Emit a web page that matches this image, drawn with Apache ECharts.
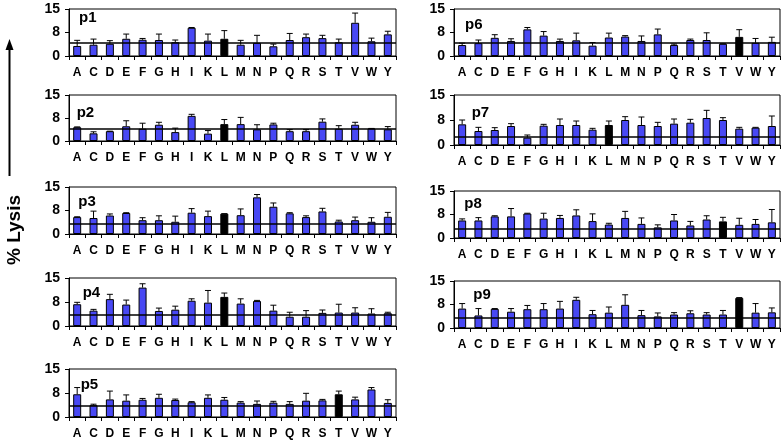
<!DOCTYPE html>
<html>
<head>
<meta charset="utf-8">
<script src="https://cdn.jsdelivr.net/npm/echarts@6.0.0/dist/echarts.min.js"></script>
<style>
html,body{margin:0;padding:0;background:#fff;}
#chart{width:782px;height:443px;}
</style>
</head>
<body>
<div id="chart"></div>
<script>
// ---- data ----
const categories = ['A','C','D','E','F','G','H','I','K','L','M','N','P','Q','R','S','T','V','W','Y'];
const yTickValues = [0, 7.5, 15]; // labelled 0, 8, 15

const p1Mean = [3.2,3.6,3.9,5.5,5.2,5.1,4.4,9.0,4.9,5.5,3.6,4.2,3.1,5.1,6.0,5.7,4.4,10.6,4.7,6.9];
const p1Sd   = [1.8,1.8,1.0,1.5,0.4,1.9,0.7,0.1,2.1,2.6,1.4,2.4,0.7,2.1,1.0,0.9,1.0,3.1,1.0,1.0];
const p2Mean = [4.5,2.5,3.2,4.8,4.0,5.3,2.9,8.2,2.4,5.5,5.5,3.8,5.4,3.2,3.2,6.3,4.0,5.3,4.1,3.8];
const p2Sd   = [0.1,0.5,0.0,1.8,1.8,0.8,1.3,0.5,1.0,1.5,2.2,1.5,0.4,0.5,0.5,0.9,1.0,0.8,0.0,0.9];
const p3Mean = [5.4,5.1,5.9,6.7,4.4,4.4,3.9,6.8,5.7,6.5,6.0,11.7,8.7,6.6,5.4,7.2,4.0,4.4,3.9,5.5];
const p3Sd   = [0.1,2.2,0.5,0.1,0.8,1.4,1.8,1.3,1.6,0.0,2.0,0.9,1.2,0.2,0.4,1.0,0.4,1.0,1.3,1.4];
const p4Mean = [6.8,4.8,8.4,6.7,12.0,4.7,5.1,7.9,7.3,9.1,7.0,7.8,4.8,2.9,2.9,4.1,4.2,4.2,3.9,4.0];
const p4Sd   = [0.6,0.4,1.5,1.4,1.2,0.9,1.1,0.6,3.8,1.2,1.5,0.2,1.7,1.4,1.9,0.9,2.6,1.5,1.5,0.3];
const p5Mean = [7.1,3.7,5.5,5.1,5.4,6.0,5.3,4.6,6.0,5.4,4.5,4.1,4.5,4.1,5.1,5.2,7.1,5.5,8.6,4.4];
const p5Sd   = [2.1,0.3,2.6,1.8,0.4,1.1,0.3,0.2,0.9,0.7,0.3,0.9,0.4,0.7,2.3,0.3,1.0,0.7,0.6,1.0];
const p6Mean = [3.5,4.1,5.8,4.8,8.5,6.5,4.8,5.0,3.3,5.9,6.2,4.8,6.9,3.5,5.1,5.1,3.9,6.1,4.2,4.5];
const p6Sd   = [0.6,1.0,1.0,0.7,0.6,1.3,0.6,2.3,1.0,1.4,0.3,1.6,1.7,0.3,0.3,2.3,0.0,2.3,1.4,1.5];
const p7Mean = [6.2,4.2,4.5,5.7,2.2,5.8,6.0,6.0,4.6,6.0,7.5,6.0,5.7,6.4,6.7,8.1,7.5,4.9,5.2,5.7];
const p7Sd   = [1.3,1.1,0.7,0.7,0.8,0.4,1.8,1.2,0.4,1.2,1.0,2.4,1.1,1.4,1.0,2.3,0.7,0.4,0.1,3.0];
const p8Mean = [5.6,5.6,6.9,6.9,7.8,6.2,6.4,7.2,5.4,4.3,6.4,4.5,3.4,5.6,4.0,5.9,5.3,4.2,4.5,5.0];
const p8Sd   = [0.5,0.9,0.2,2.5,0.1,1.7,0.8,1.8,2.3,0.4,2.1,1.9,0.8,1.9,1.3,1.2,1.3,2.1,1.4,4.1];
const p9Mean = [6.2,4.0,6.1,5.2,6.0,6.0,6.2,9.0,4.4,4.9,7.4,4.1,3.7,4.3,4.7,4.3,4.3,9.6,4.9,5.0];
const p9Sd   = [1.6,2.2,0.1,1.0,1.2,1.8,2.3,0.8,1.2,1.8,3.2,1.5,1.1,0.6,0.8,0.6,1.3,0.1,2.9,1.4];

const panelNames = ['p1','p2','p3','p4','p5','p6','p7','p8','p9'];
const refLevels  = [4.1,3.9,3.3,3.5,3.5,4.1,2.4,3.0,3.4];
const blackCats  = ['L','L','L','L','T','V','L','T','V'];

// ---- layout (positions only) ----
const FONT = 'Liberation Sans, Arial, Helvetica, sans-serif';
const layout = [
  {left:69,  width:327, top:9,   height:47, lx:79,    ly:18.3},
  {left:69,  width:327, top:95,  height:46, lx:76.7,  ly:113.3},
  {left:69,  width:327, top:187, height:47, lx:78.3,  ly:201.7},
  {left:69,  width:327, top:278, height:48, lx:82.7,  ly:292.8},
  {left:69,  width:327, top:369, height:48, lx:80.7,  ly:385.3},
  {left:454, width:326, top:9,   height:47, lx:465,   ly:24.7},
  {left:454, width:326, top:95,  height:50, lx:471.7, ly:112.7},
  {left:454, width:326, top:191, height:47, lx:464.3, ly:203.7},
  {left:454, width:326, top:281, height:47, lx:473.3, ly:294.7}
];

const means = [p1Mean,p2Mean,p3Mean,p4Mean,p5Mean,p6Mean,p7Mean,p8Mean,p9Mean];
const sds   = [p1Sd,p2Sd,p3Sd,p4Sd,p5Sd,p6Sd,p7Sd,p8Sd,p9Sd];

const BLUE = '#4848f4';
const grids = [], xAxes = [], yAxes = [], series = [], graphics = [];

layout.forEach((L, i) => {
  grids.push({left:L.left, top:L.top, width:L.width, height:L.height,
    show:true, borderColor:'#000', borderWidth:1, backgroundColor:'transparent',
    containLabel:false, outerBoundsMode:'none'});
  xAxes.push({type:'category', gridIndex:i, data:categories,
    axisLine:{lineStyle:{color:'#000', width:1}},
    axisTick:{show:true, length:4, lineStyle:{color:'#000'}},
    axisLabel:{interval:0, margin:11, color:'#000', fontWeight:'bold', fontSize:12, fontFamily:FONT},
    splitLine:{show:false}});
  yAxes.push({type:'value', gridIndex:i, min:yTickValues[0], max:yTickValues[2],
    interval:yTickValues[1]-yTickValues[0],
    axisLine:{show:true, lineStyle:{color:'#000', width:1}},
    axisTick:{show:true, length:4, lineStyle:{color:'#000'}},
    axisLabel:{margin:9, color:'#000', fontWeight:'bold', fontSize:14, fontFamily:FONT,
      formatter: v => String(Math.round(v))},
    splitLine:{show:false}});
  const m = means[i], s = sds[i];
  series.push({type:'bar', xAxisIndex:i, yAxisIndex:i, barWidth:8, z:2,
    data: m.map((v, k) => ({value:v, itemStyle:{color: categories[k] === blackCats[i] ? '#000' : BLUE}})),
    itemStyle:{borderColor:'#000', borderWidth:1},
    emphasis:{disabled:true}, animation:false,
    markLine:{silent:true, symbol:['none','none'], label:{show:false},
      lineStyle:{color:'#000', width:1.6, type:'solid'},
      data:[{yAxis:refLevels[i]}], animation:false}});
  series.push({type:'custom', xAxisIndex:i, yAxisIndex:i, z:3, animation:false, silent:true,
    data: m.map((v, k) => [k, v, +(v + s[k]).toFixed(2)]),
    renderItem: (params, api) => {
      const p0 = api.coord([api.value(0), api.value(1)]);
      const p1 = api.coord([api.value(0), api.value(2)]);
      const st = {stroke:'#000', lineWidth:1};
      return {type:'group', children:[
        {type:'line', shape:{x1:p0[0], y1:p0[1], x2:p1[0], y2:p1[1]}, style:st},
        {type:'line', shape:{x1:p1[0]-3, y1:p1[1], x2:p1[0]+3, y2:p1[1]}, style:st}
      ]};
    }});
  graphics.push({type:'text', x:L.lx, y:L.ly, z:10,
    style:{text:panelNames[i], font:'bold 15px ' + FONT, fill:'#000',
      textAlign:'left', textVerticalAlign:'middle'}});
});

// y-axis title and arrow
graphics.push({type:'line', shape:{x1:9.5, y1:176, x2:9.5, y2:46}, style:{stroke:'#000', lineWidth:2}});
graphics.push({type:'polygon', shape:{points:[[9.5,39],[5.5,50],[13.5,50]]}, style:{fill:'#000'}});
graphics.push({type:'text', x:15, y:230, rotation:Math.PI/2,
  style:{text:'% Lysis', font:'bold 19px ' + FONT, fill:'#000', textAlign:'center', textVerticalAlign:'middle'}});

const chart = echarts.init(document.getElementById('chart'), null, {renderer:'canvas'});
chart.setOption({
  animation:false,
  backgroundColor:'#fff',
  grid:grids, xAxis:xAxes, yAxis:yAxes, series:series, graphic:graphics
});
</script>
</body>
</html>
